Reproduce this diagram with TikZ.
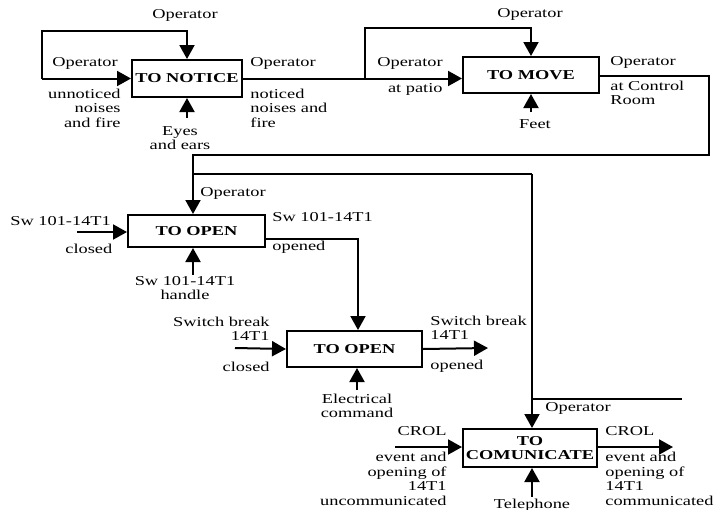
\documentclass[tikz,border=0pt]{standalone}
\usepackage{fontspec}
\setmainfont{Liberation Serif}[FakeStretch=1.35]
\usetikzlibrary{arrows.meta}
\begin{document}
\begin{tikzpicture}[x=0.5pt,y=-0.5pt,
  every node/.style={font=\fontsize{6.8}{7.25}\selectfont},
  box/.style={draw,line width=1pt,inner sep=0pt,font=\fontsize{6.8}{7.25}\selectfont\bfseries},
  lbl/.style={inner sep=0pt},
  flow/.style={line width=1pt,-{Triangle[length=7pt,width=7.5pt]}},
  wire/.style={line width=1pt}]
\fill[white] (0,0) rectangle (714,510);
\useasboundingbox (0,0) rectangle (714,510);
% boxes
\node[box,minimum width=55pt,minimum height=18.5pt] (b1) at (187,78.5) {TO NOTICE};
\node[box,minimum width=68pt,minimum height=18pt] (b2) at (531,75) {TO MOVE};
\node[box,minimum width=68.5pt,minimum height=16pt] (b3) at (196.5,231) {TO OPEN};
\node[box,minimum width=67.5pt,minimum height=18pt] (b5) at (354.5,349) {TO OPEN};
\node[box,minimum width=67pt,minimum height=19pt,align=center] (b6) at (530,448) {TO\\COMUNICATE};
% coordinates
\coordinate (l1) at (42,78.5);
\coordinate (t1) at (42,31);
\coordinate (e1) at (187,118);
\coordinate (j1) at (365,78.5);
\coordinate (t2) at (365,28);
\coordinate (f2) at (531,112);
\coordinate (r2) at (709,155);
\coordinate (j3) at (193,155);
\coordinate (j4) at (193,174);
\coordinate (k4) at (532,174);
\coordinate (k5) at (532,399);
\coordinate (s5) at (682,399);
\coordinate (i3) at (77,232);
\coordinate (h3) at (193,275);
\coordinate (o3) at (358,239);
\coordinate (i5) at (235,348);
\coordinate (o5) at (488,348);
\coordinate (c5) at (357,390);
\coordinate (i6) at (395,447);
\coordinate (o6) at (673,447);
\coordinate (p6) at (532,497);
% connectors
\draw[flow] (l1) -- (b1.west);
\draw[flow] (l1) -- (t1) -| (b1.north);
\draw[flow] (e1) -- (b1.south);
\draw[wire] (b1.east) -- (j1);
\draw[flow] (j1) -- (j1 -| b2.west);
\draw[flow] (j1) -- (t2) -| (b2.north);
\draw[flow] (f2) -- (b2.south);
\draw[flow] (b2.east |- 0,76) -| (r2) -- (j3) -- (j3 |- b3.north);
\draw[wire] (j4) -- (k4);
\draw[flow] (k4) -- (k4 |- b6.north);
\draw[wire] (k5) -- (s5);
\draw[flow] (i3) -- (i3 -| b3.west);
\draw[flow] (h3) -- (h3 |- b3.south);
\draw[flow] (o3 -| b3.east) -- (o3) -- (o3 |- b5.north);
\draw[flow] (i5) -- (b5.west);
\draw[flow] (b5.east) -- (o5);
\draw[flow] (c5) -- (c5 |- b5.south);
\draw[flow] (i6) -- (i6 -| b6.west);
\draw[flow] (b6.east |- o6) -- (o6);
\draw[flow] (p6) -- (p6 |- b6.south);
% labels
\node[lbl] (n1) at (185,15) {Operator};
\node[lbl,anchor=west] (n2) at (52,63) {Operator};
\node[lbl,anchor=east,align=right] (n3) at (121,108) {unnoticed\\noises\\and fire};
\node[lbl,anchor=west] (n4) at (250,63) {Operator};
\node[lbl,anchor=west,align=left] (n5) at (250,108) {noticed\\noises and\\fire};
\node[lbl,align=center] (n6) at (180,138) {Eyes\\and ears};
\node[lbl] (n7) at (530,14) {Operator};
\node[lbl,anchor=west] (n8) at (377,63) {Operator};
\node[lbl,anchor=east] (n9) at (443,89) {at patio};
\node[lbl,anchor=west] (n10) at (610,62) {Operator};
\node[lbl,anchor=west,align=left] (n11) at (610,93) {at Control\\Room};
\node[lbl] (n12) at (535,124) {Feet};
\node[lbl,anchor=west] (n13) at (200,193) {Operator};
\node[lbl,anchor=west] (n14) at (10,221) {Sw 101-14T1};
\node[lbl,anchor=west] (n15) at (65,249) {closed};
\node[lbl,align=center] (n16) at (185,288) {Sw 101-14T1\\handle};
\node[lbl,anchor=west] (n17) at (272,217) {Sw 101-14T1};
\node[lbl,anchor=west] (n18) at (272,247) {opened};
\node[lbl,anchor=east,align=right] (n19) at (270,329) {Switch break\\14T1};
\node[lbl,anchor=east] (n20) at (270,367) {closed};
\node[lbl,anchor=west,align=left] (n21) at (430,328) {Switch break\\14T1};
\node[lbl,anchor=west] (n22) at (430,366) {opened};
\node[lbl,align=center] (n23) at (357,406) {Electrical\\command};
\node[lbl,anchor=west] (n24) at (545,408) {Operator};
\node[lbl,anchor=east] (n25) at (447,431) {CROL};
\node[lbl,anchor=east,align=right] (n26) at (447,479) {event and\\opening of\\14T1\\uncommunicated};
\node[lbl,anchor=west] (n27) at (605,431) {CROL};
\node[lbl,anchor=west,align=left] (n28) at (605,479) {event and\\opening of\\14T1\\communicated};
\node[lbl] (n29) at (532,505) {Telephone};
\end{tikzpicture}
\end{document}
